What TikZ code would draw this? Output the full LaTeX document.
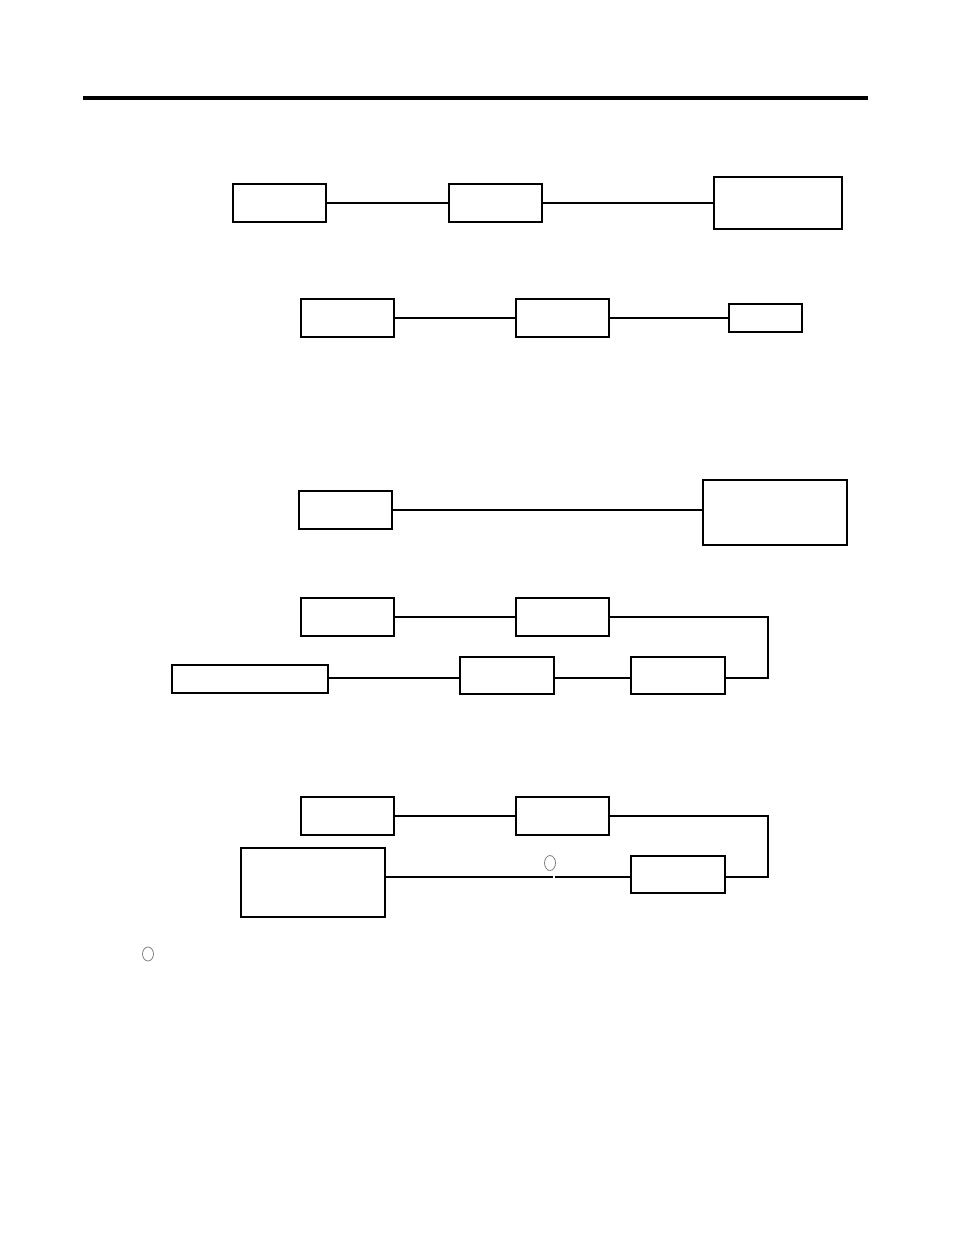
\documentclass[tikz,border=0pt]{standalone}
\usepackage{amsmath, amssymb}
\usepackage[dvipsnames]{xcolor}
\usepackage{tikz}

\tikzset{
  blk/.style={draw, line width=1.35pt, rectangle, inner sep=0pt},
  wire/.style={line width=1.35pt},
  ring/.style={draw=gray, line width=0.6pt},
}

\begin{document}
\begin{tikzpicture}[x=0.75pt,y=0.75pt,yscale=-1,xscale=1]
\useasboundingbox (0,0) rectangle (954,1235);

%Rule at the top
\coordinate (ruleL) at (83,98);
\coordinate (ruleR) at (868,98);
\draw [line width=2.6pt] (ruleL) -- (ruleR) ;

% Row 1
\node [blk, minimum width=70pt, minimum height=28.5pt] (A1) at (279.5,203) {};
\node [blk, minimum width=70pt, minimum height=28.5pt] (A2) at (495.5,203) {};
\node [blk, minimum width=96pt, minimum height=39pt] (A3) at (778,203) {};
\draw [wire] (A1.east) -- (A2.west) ;
\draw [wire] (A2.east) -- (A3.west) ;

% Row 2
\node [blk, minimum width=70pt, minimum height=28pt] (B1) at (347.5,318) {};
\node [blk, minimum width=70pt, minimum height=28pt] (B2) at (562.5,318) {};
\node [blk, minimum width=55pt, minimum height=21pt] (B3) at (765.5,318) {};
\draw [wire] (B1.east) -- (B2.west) ;
\draw [wire] (B2.east) -- (B3.west) ;

% Row 3
\node [blk, minimum width=70pt, minimum height=28pt] (C1) at (345.5,510) {};
\node [blk, minimum width=108pt, minimum height=49pt] (C2) at (775,512.5) {};
\draw [wire] (C1.east) -- (C1.east -| C2.west) ;

% Row 4
\node [blk, minimum width=70pt, minimum height=28.5pt] (D1) at (347.5,617) {};
\node [blk, minimum width=70pt, minimum height=28.5pt] (D2) at (562.5,617) {};
\node [blk, minimum width=117pt, minimum height=21pt] (D3) at (250,679) {};
\node [blk, minimum width=70.5pt, minimum height=28pt] (D4) at (507,675.5) {};
\node [blk, minimum width=70.5pt, minimum height=28pt] (D5) at (678,675.5) {};
\coordinate (Dturn) at (768,617);
\coordinate (Dlow) at (768,678);
\draw [wire] (D1.east) -- (D2.west) ;
\draw [wire] (D2.east) -- (Dturn) -- (Dlow) -- (Dlow -| D5.east) ;
\draw [wire] (D5.west |- Dlow) -- (D4.east |- Dlow) ;
\draw [wire] (D4.west |- Dlow) -- (D3.east |- Dlow) ;

% Row 5
\node [blk, minimum width=70pt, minimum height=28pt] (E1) at (347.5,816) {};
\node [blk, minimum width=70pt, minimum height=28pt] (E2) at (562.5,816) {};
\node [blk, minimum width=108pt, minimum height=52pt] (E3) at (313,882.5) {};
\node [blk, minimum width=70.5pt, minimum height=28pt] (E4) at (678,874.5) {};
\coordinate (Eturn) at (768,816);
\coordinate (Elow) at (768,877);
\coordinate (Egap) at (554,877);
\draw [wire] (E1.east) -- (E2.west) ;
\draw [wire] (E2.east) -- (Eturn) -- (Elow) -- (Elow -| E4.east) ;
\draw [wire] (E3.east |- Egap) -- ([xshift=-0.5]Egap) ;
\draw [wire] ([xshift=0.8]Egap) -- (E4.west |- Egap) ;

% Small rings
\draw [ring] (550,863) ellipse [x radius=5.5, y radius=7.5] ;
\draw [ring] (148,954) ellipse [x radius=5.5, y radius=7] ;

\end{tikzpicture}
\end{document}
